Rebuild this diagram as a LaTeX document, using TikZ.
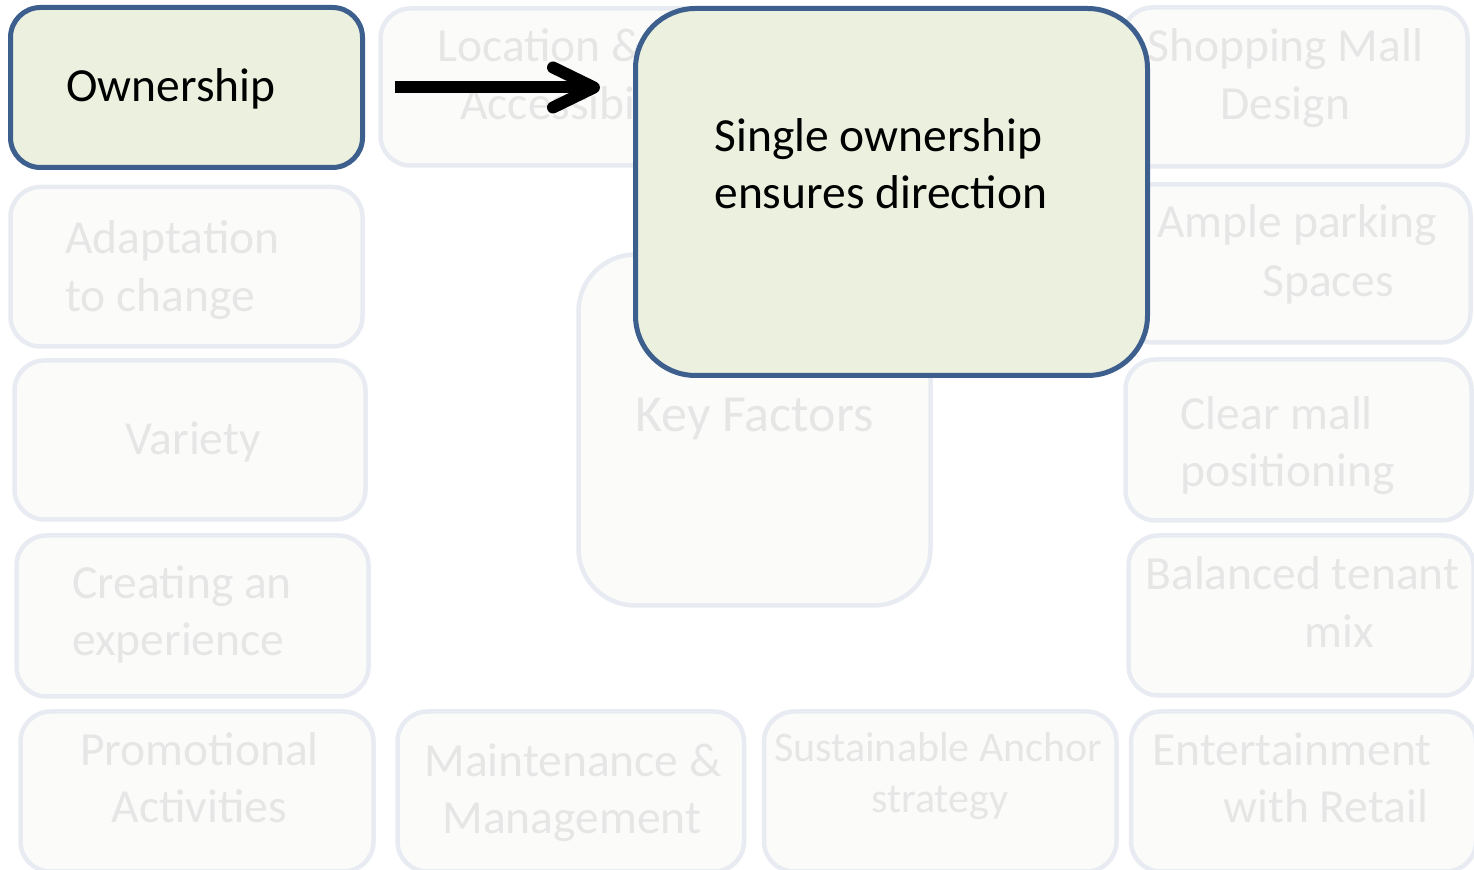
\documentclass[tikz,border=0pt]{standalone}
\usepackage{fontspec}
\setmainfont{Carlito}
\usetikzlibrary{calc}
\definecolor{fadefill}{HTML}{FBFBFA}
\definecolor{fadeline}{HTML}{E8ECF2}
\definecolor{fadetext}{HTML}{E6E6E6}
\definecolor{hifill}{HTML}{EBF0DF}
\definecolor{hiline}{HTML}{3D5F8E}
\tikzset{
  fbox/.style={draw=fadeline, fill=fadefill, line width=2.25pt, rounded corners=15pt, inner sep=0pt},
  hbox/.style={draw=hiline, fill=hifill, line width=2.5pt, rounded corners=15pt, inner sep=0pt},
  ftext/.style={font=\fontsize{23.75}{29}\selectfont, text=fadetext, anchor=base west, inner sep=0pt},
  htext/.style={font=\fontsize{23.75}{29}\selectfont, text=black, anchor=base west, inner sep=0pt},
  arrowline/.style={line width=6pt, draw=black},
  arrowhead/.style={line width=6pt, draw=black, line cap=round, line join=round}
}
\begin{document}
\begin{tikzpicture}[x=0.5pt, y=-0.5pt]
\useasboundingbox (0,0) rectangle (1474,870);
\clip (0,0) rectangle (1474,870);
\fill[white] (0,0) rectangle (1474,870);
% faded boxes
\node[fbox, minimum width=176pt, minimum height=78.5pt] (loc) at (556.5,87) {};
\node[fbox, minimum width=172.5pt, minimum height=79.5pt] (shop) at (1295,87) {};
\node[fbox, minimum width=174pt, minimum height=79pt] (ample) at (1296.5,263.5) {};
\node[fbox, minimum width=173pt, minimum height=80.5pt] (clear) at (1298.5,440) {};
\node[fbox, minimum width=172.5pt, minimum height=80pt] (bal) at (1301,615.5) {};
\node[fbox, minimum width=172.5pt, minimum height=80pt] (ent) at (1303.5,791.5) {};
\node[fbox, minimum width=176.25pt, minimum height=80pt] (sust) at (940.25,791.5) {};
\node[fbox, minimum width=173.25pt, minimum height=80pt] (maint) at (570.75,791.5) {};
\node[fbox, minimum width=176.5pt, minimum height=80pt] (promo) at (197,791.5) {};
\node[fbox, minimum width=176pt, minimum height=80.5pt] (create) at (192.5,616) {};
\node[fbox, minimum width=175.5pt, minimum height=79.5pt] (variety) at (190,440) {};
\node[fbox, minimum width=176pt, minimum height=79.75pt] (adapt) at (186.5,266.75) {};
\node[fbox, rounded corners=28.5pt, minimum width=176pt, minimum height=175.5pt] (key) at (754.5,430) {};
% faded texts
\node[ftext] (loc1) at (437,62) {Location \&};
\node[ftext] (loc2) at (460,120) {Accessibility};
\node[ftext] (shop1) at (1147,62) {Shopping Mall};
\node[ftext] (shop2) at (1220,120) {Design};
\node[ftext] (ample1) at (1157,238) {Ample parking};
\node[ftext] (ample2) at (1262,297) {Spaces};
\node[ftext] (clear1) at (1180,430) {Clear mall};
\node[ftext] (clear2) at (1180,487) {positioning};
\node[ftext] (bal1) at (1145,590) {Balanced tenant};
\node[ftext] (bal2) at (1304,648) {mix};
\node[ftext] (ent1) at (1152,766) {Entertainment};
\node[ftext] (ent2) at (1223,823) {with Retail};
\node[ftext, font=\fontsize{21}{25.5}\selectfont] (sust1) at (774,762) {Sustainable Anchor};
\node[ftext, font=\fontsize{21}{25.5}\selectfont] (sust2) at (871,813) {strategy};
\node[ftext] (maint1) at (424,777) {Maintenance \&};
\node[ftext] (maint2) at (442,834) {Management};
\node[ftext] (promo1) at (80,766) {Promotional};
\node[ftext] (promo2) at (111.5,823) {Activities};
\node[ftext] (create1) at (72,599) {Creating an};
\node[ftext] (create2) at (72,655.5) {experience};
\node[ftext] (variety1) at (125,455) {Variety};
\node[ftext] (adapt1) at (65,254) {Adaptation};
\node[ftext] (adapt2) at (65,312) {to change};
\node[ftext, font=\fontsize{26}{31}\selectfont] (key1) at (635,432) {Key Factors};
% highlighted box
\node[hbox, minimum width=176pt, minimum height=80pt] (own) at (186.5,87.5) {};
\node[htext] (own1) at (66,102) {Ownership};
% callout
\node[hbox, rounded corners=30pt, minimum width=256pt, minimum height=183.5pt] (call) at (891.5,192) {};
\node[htext] (call1) at (714,152) {Single ownership};
\node[htext] (call2) at (714,209) {ensures direction};
% arrow
\coordinate (astart) at ($(own.east)+(30,0)$);
\coordinate (tip) at ($(own.east -| call.west)+(-39,0)$);
\draw[arrowline] (astart) -- ($(tip)+(-4,0)$);
\draw[arrowhead] ($(tip)+(-41,-20)$) -- (tip) -- ($(tip)+(-41,20)$);
\end{tikzpicture}
\end{document}
